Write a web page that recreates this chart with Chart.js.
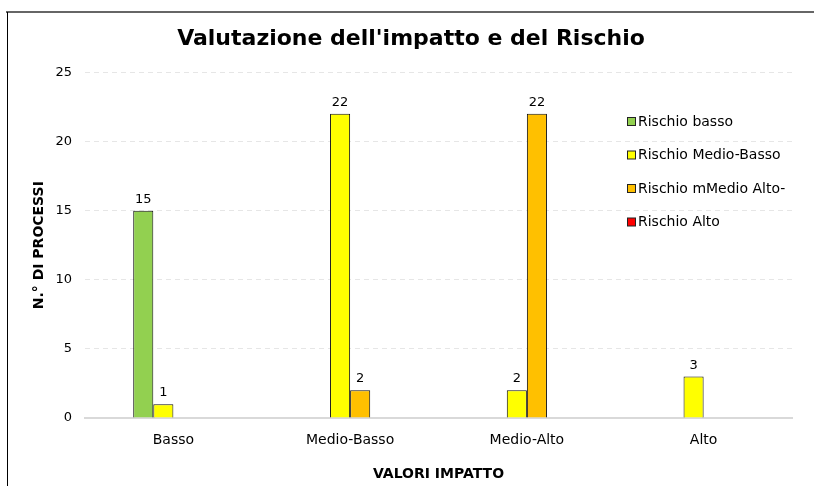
<!DOCTYPE html>
<html lang="it">
<head>
    <meta charset="utf-8" />
    <title>Valutazione dell'impatto e del Rischio</title>
    <script src="https://cdn.jsdelivr.net/npm/chart.js"></script>
    <style>
        html, body { margin: 0; padding: 0; background: #fff; }
        #box { width: 814px; height: 486px; }
    </style>
</head>
<body>
    <div id="box"><canvas id="myChart"></canvas></div>
    <script>
        // Dati
        var categorie = ['Basso', 'Medio-Basso', 'Medio-Alto', 'Alto'];
        var nomiSerie = ['Rischio basso', 'Rischio Medio-Basso', 'Rischio mMedio Alto-', 'Rischio Alto'];
        var rischioBasso = [15, null, null, null];
        var rischioMedioBasso = [1, 22, 2, 3];
        var rischioMedioAlto = [null, 2, 22, null];
        var rischioAlto = [null, null, null, null];
        var tickY = [0, 5, 10, 15, 20, 25];

        var colori = ['#92D050', '#FFFF00', '#FFC000', '#FF0000'];
        var FONT = "'DejaVu Sans', Verdana, sans-serif";

        // cornice esterna (solo lato sinistro e superiore visibili)
        var cornice = {
            id: 'cornice',
            beforeDraw: function (chart) {
                var c = chart.ctx;
                c.save();
                c.fillStyle = '#ffffff';
                c.fillRect(0, 0, chart.width, chart.height);
                c.strokeStyle = '#666666';
                c.lineWidth = 2;
                c.beginPath();
                c.moveTo(6, 12);
                c.lineTo(chart.width, 12);
                c.stroke();
                c.strokeStyle = '#000000';
                c.lineWidth = 1;
                c.beginPath();
                c.moveTo(7.5, 12);
                c.lineTo(7.5, chart.height);
                c.stroke();
                c.restore();
            }
        };

        // etichette sopra le barre
        var etichette = {
            id: 'etichette',
            afterDatasetsDraw: function (chart) {
                var c = chart.ctx;
                c.save();
                c.font = '13px ' + FONT;
                c.fillStyle = '#000';
                c.textAlign = 'center';
                c.textBaseline = 'alphabetic';
                chart.data.datasets.forEach(function (ds, i) {
                    var meta = chart.getDatasetMeta(i);
                    meta.data.forEach(function (bar, j) {
                        var v = ds.data[j];
                        if (v === null || v === undefined) return;
                        c.fillText(v, bar.x, bar.y - 8);
                    });
                });
                c.restore();
            }
        };

        // legenda dentro l'area del grafico, a destra
        var legenda = {
            id: 'legenda',
            afterDraw: function (chart) {
                var c = chart.ctx;
                c.save();
                c.font = '14px ' + FONT;
                c.textBaseline = 'middle';
                c.textAlign = 'left';
                chart.data.datasets.forEach(function (ds, i) {
                    var y = 122 + i * 33.5;
                    c.fillStyle = ds.backgroundColor;
                    c.fillRect(627.5, y - 4.5, 8, 8);
                    c.strokeStyle = '#222';
                    c.lineWidth = 1;
                    c.strokeRect(627.5, y - 4.5, 8, 8);
                    c.fillStyle = '#000';
                    c.fillText(ds.label, 638, y);
                });
                c.restore();
            }
        };

        var serie = [rischioBasso, rischioMedioBasso, rischioMedioAlto, rischioAlto];
        var datasets = serie.map(function (valori, i) {
            return {
                label: nomiSerie[i],
                data: valori,
                backgroundColor: colori[i],
                borderColor: '#111111',
                borderWidth: 1,
                barPercentage: 1,
                categoryPercentage: 0.4545
            };
        });

        const ctx = document.getElementById('myChart').getContext('2d');
        new Chart(ctx, {
            type: 'bar',
            data: {
                labels: categorie,
                datasets: datasets
            },
            options: {
                responsive: true,
                maintainAspectRatio: false,
                animation: false,
                layout: {
                    padding: { left: 30, right: 22, top: 0, bottom: 3 }
                },
                plugins: {
                    legend: { display: false },
                    tooltip: { enabled: false },
                    title: {
                        display: true,
                        text: "Valutazione dell'impatto e del Rischio",
                        color: '#000',
                        font: { family: FONT, size: 22, weight: 'bold' },
                        padding: { top: 26, bottom: 20 }
                    }
                },
                scales: {
                    x: {
                        grid: { display: false },
                        border: { display: true, color: '#d9d9d9', width: 2 },
                        ticks: {
                            color: '#000',
                            padding: 6,
                            font: { family: FONT, size: 14 }
                        },
                        title: {
                            display: true,
                            text: 'VALORI IMPATTO',
                            color: '#000',
                            font: { family: FONT, size: 14, weight: 'bold' },
                            padding: { top: 0, bottom: 0 }
                        },
                        afterFit: function (scale) { scale.height = 65; }
                    },
                    y: {
                        min: 0,
                        max: 25,
                        afterBuildTicks: function (scale) {
                            scale.ticks = tickY.map(function (v) { return { value: v }; });
                        },
                        grid: {
                            drawTicks: false,
                            color: function (context) {
                                return context.tick && context.tick.value === 0 ? 'rgba(0,0,0,0)' : '#e6e6e6';
                            }
                        },
                        border: { display: false, dash: [5, 4] },
                        ticks: {
                            color: '#000',
                            padding: 13,
                            font: { family: FONT, size: 13 }
                        },
                        title: {
                            display: true,
                            text: 'N.° DI PROCESSI',
                            color: '#000',
                            font: { family: FONT, size: 14, weight: 'bold' },
                            padding: { top: 1, bottom: 0 }
                        },
                        afterFit: function (scale) { scale.width = 55; }
                    }
                }
            },
            plugins: [cornice, etichette, legenda]
        });
    </script>
</body>
</html>
